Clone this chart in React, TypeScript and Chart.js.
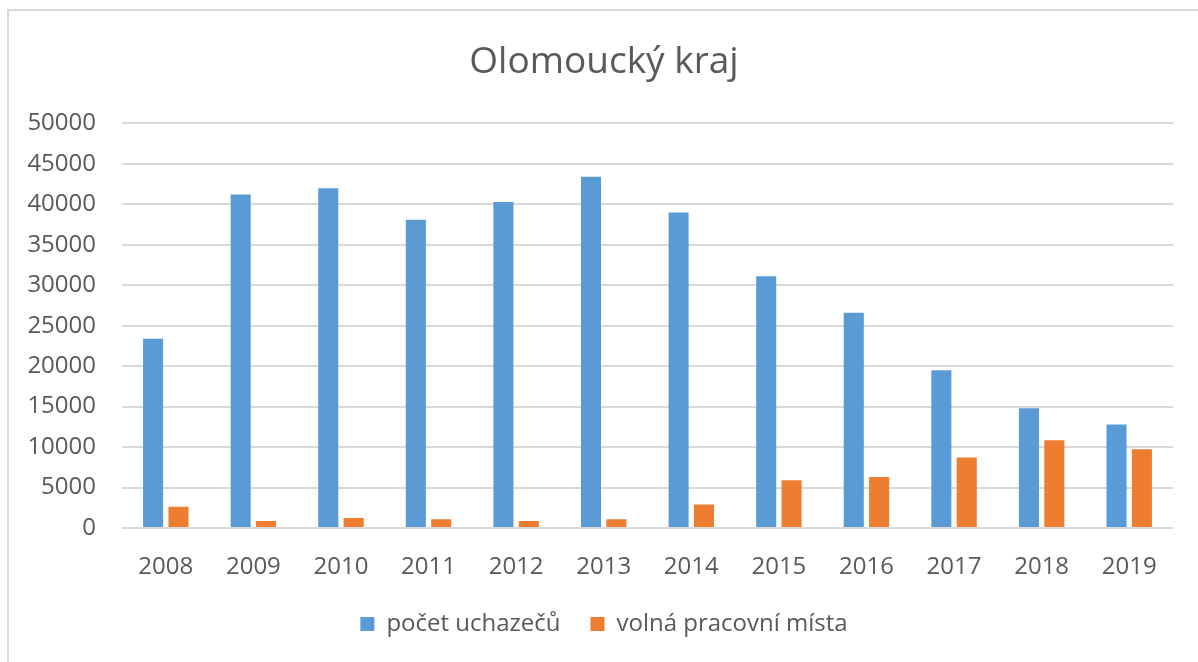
import React, { useEffect, useRef } from "react";
import { Chart, registerables } from "chart.js";

Chart.register(...registerables);

const title = "Olomoucký kraj";
const years = ["2008", "2009", "2010", "2011", "2012", "2013", "2014", "2015", "2016", "2017", "2018", "2019"];
const seriesNames = ["počet uchazečů", "volná pracovní místa"];
const applicants = [23400, 41200, 42000, 38100, 40300, 43400, 39000, 31100, 26600, 19500, 14800, 12800];
const vacancies = [2640, 870, 1240, 1070, 870, 1070, 2900, 5900, 6300, 8700, 10850, 9740];
const yMax = 50000;
const yStep = 5000;

const FONT = "'Open Sans', 'DejaVu Sans', sans-serif";
const TEXT = "#595959";

export default function App() {
  const ref = useRef<HTMLCanvasElement | null>(null);

  useEffect(() => {
    if (!ref.current) return;
    const chart = new Chart(ref.current, {
      type: "bar",
      data: {
        labels: years,
        datasets: [
          {
            label: seriesNames[0],
            data: applicants,
            backgroundColor: "#5b9bd5",
            categoryPercentage: 0.58,
            barPercentage: 0.79,
          },
          {
            label: seriesNames[1],
            data: vacancies,
            backgroundColor: "#ed7d31",
            categoryPercentage: 0.58,
            barPercentage: 0.79,
          },
        ],
      },
      options: {
        animation: false,
        responsive: false,
        maintainAspectRatio: false,
        layout: { padding: { left: 0, right: 0, top: 0, bottom: 16 } },
        plugins: {
          title: {
            display: true,
            text: title,
            color: TEXT,
            font: { family: FONT, size: 37, weight: "normal" },
            padding: { top: 29, bottom: 39 },
          },
          legend: {
            position: "bottom",
            labels: {
              color: TEXT,
              font: { family: FONT, size: 24 },
              boxWidth: 14,
              boxHeight: 14,
              padding: 30,
            },
          },
          tooltip: { enabled: false },
        },
        scales: {
          x: {
            grid: { display: false, drawTicks: false },
            border: { display: false },
            ticks: { color: TEXT, font: { family: FONT, size: 24 }, padding: 25 },
            afterFit: (s: any) => {
              s.height = 54;
            },
          },
          y: {
            min: 0,
            max: yMax,
            ticks: {
              stepSize: yStep,
              color: TEXT,
              font: { family: FONT, size: 24 },
              padding: 26,
              callback: (v: any) => String(v),
            },
            grid: { color: "#d9d9d9", lineWidth: 2, drawTicks: false },
            border: { display: false },
            afterFit: (s: any) => {
              s.width = 113;
            },
          },
          yRight: {
            position: "right",
            display: true,
            min: 0,
            max: yMax,
            grid: { display: false, drawTicks: false },
            border: { display: false },
            ticks: { display: false },
            afterFit: (s: any) => {
              s.width = 26;
            },
          },
        },
      },
    });
    return () => chart.destroy();
  }, []);

  return (
    <div
      style={{
        position: "fixed",
        left: 7,
        top: 9,
        width: 1195,
        height: 660,
        border: "2px solid #d9d9d9",
        background: "#fff",
      }}
    >
      <canvas ref={ref} width={1190} height={651} style={{ display: "block" }} />
    </div>
  );
}
